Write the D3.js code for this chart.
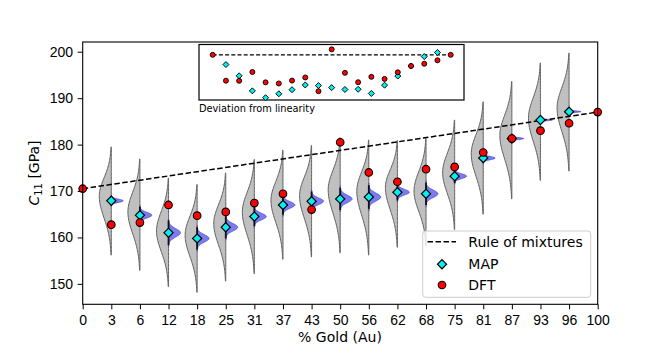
<!DOCTYPE html>
<html lang="en">
<head>
<meta charset="UTF-8">
<title>C11 vs gold fraction</title>
<script src="https://d3js.org/d3.v7.min.js"></script>
<style>
  body { margin: 0; background: #fff; }
  svg { font-family: "DejaVu Sans", sans-serif; }
  .axis text { font-size: 14px; fill: #000; }
  .axis path, .axis line { stroke: #000; }
</style>
</head>
<body>
<div id="chart"></div>
<script>
// composition (% Au), used as category labels
const pct = [0, 3, 6, 12, 18, 25, 31, 37, 43, 50, 56, 62, 68, 75, 81, 87, 93, 96, 100];
// DFT values (GPa)
const dft = [170.5, 162.75, 163.2, 167.0, 164.7, 165.5, 167.4, 169.4, 166.0, 180.5,
             174.0, 172.0, 174.7, 175.2, 178.3, 181.3, 183.0, 184.6, 187.0];
// MAP estimates, only for alloy compositions (3 .. 96)
const mapPct = [3, 6, 12, 18, 25, 31, 37, 43, 50, 56, 62, 68, 75, 81, 87, 93, 96];
const mapVal = [167.9, 164.8, 161.0, 159.8, 162.2, 164.5, 167.0, 167.8, 168.3, 168.7,
                169.75, 169.4, 173.2, 177.1, 181.3, 185.3, 187.1];
// gray violins: lower end, upper end, widest point
const violinLo   = [156.2, 152.9, 149.4, 148.2, 150.6, 152.2, 155.3, 155.8, 156.7, 156.2,
                    157.9, 158.2, 161.7, 165.0, 168.3, 172.3, 174.3];
const violinHi   = [179.5, 176.9, 172.8, 171.4, 173.9, 176.8, 178.8, 179.8, 181.5, 181.0,
                    180.9, 181.3, 185.3, 189.2, 193.6, 197.6, 199.7];
const violinMode = [168.9, 165.5, 161.4, 160.5, 163.0, 165.5, 168.0, 169.0, 170.3, 170.0,
                    170.8, 170.0, 174.0, 178.0, 182.0, 185.7, 187.9];
// blue violins: spread around the MAP value
const postSd = [0.35, 0.6, 0.9, 0.8, 0.8, 0.7, 0.7, 0.7, 0.8, 0.85,
                0.6, 0.8, 0.5, 0.35, 0.2, 0.15, 0.15];
const yTicks = [150, 160, 170, 180, 190, 200];

const width = 664, height = 348;
const svg = d3.select("#chart").append("svg")
    .attr("width", width).attr("height", height);

const x = d3.scalePoint().domain(pct).range([82.7, 597.7]);
const y = d3.scaleLinear().domain([145.6, 202.1]).range([304.3, 42]);
const halfW = x.step() * 0.42;

// rule of mixtures between pure endpoints
const rom = p => dft[0] + (dft[dft.length - 1] - dft[0]) * p / 100;

// half violin profile
function profile(lo, hi, mode, n, k) {
    const pts = [];
    for (let j = 0; j <= n; j++) {
        const v = lo + (hi - lo) * j / n;
        const s = (v > mode ? hi - mode : mode - lo) / k;
        const z = (v - mode) / s;
        pts.push({ v: v, w: Math.exp(-0.5 * z * z) });
    }
    return pts;
}

const g = svg.append("g");

// gray violins (left half)
mapPct.forEach((p, i) => {
    const cx = x(p);
    const pts = profile(violinLo[i], violinHi[i], violinMode[i], 80, 2.7);
    g.append("path")
        .datum(pts)
        .attr("d", d3.area().x0(cx).x1(d => cx - d.w * halfW).y(d => y(d.v)).curve(d3.curveBasis))
        .attr("fill", "#c0c0c0")
        .attr("stroke", "#5f5f5f")
        .attr("stroke-width", 1);
});

// blue violins (right half)
mapPct.forEach((p, i) => {
    const cx = x(p), m = mapVal[i], s = postSd[i];
    const pts = profile(m - 3.5 * s, m + 3.5 * s, m, 40, 3.5);
    g.append("path")
        .datum(pts)
        .attr("d", d3.area().x0(cx).x1(d => cx + d.w * halfW).y(d => y(d.v)).curve(d3.curveBasis))
        .attr("fill", "#7b7bf2")
        .attr("stroke", "#4a4ac0")
        .attr("stroke-width", 0.7);
    g.append("line")
        .attr("x1", cx).attr("x2", cx)
        .attr("y1", y(m - 3 * s)).attr("y2", y(m + 3 * s))
        .attr("stroke", "#111").attr("stroke-width", 1.8);
});

// rule of mixtures line
g.append("line")
    .attr("x1", x(pct[0])).attr("y1", y(dft[0]))
    .attr("x2", x(pct[pct.length - 1])).attr("y2", y(dft[dft.length - 1]))
    .attr("stroke", "#000").attr("stroke-width", 1.5)
    .attr("stroke-dasharray", "5.5,2.5");

const diamond = size => d3.symbol(d3.symbolSquare, size);

g.selectAll(".map").data(mapPct).join("path")
    .attr("class", "map")
    .attr("d", diamond(42))
    .attr("transform", (p, i) => `translate(${x(p)},${y(mapVal[i])}) rotate(45)`)
    .attr("fill", "#00f0f0").attr("stroke", "#000").attr("stroke-width", 1.2);

g.selectAll(".dft").data(pct).join("circle")
    .attr("class", "dft")
    .attr("cx", p => x(p)).attr("cy", (p, i) => y(dft[i]))
    .attr("r", 3.8)
    .attr("fill", "#ff0000").attr("stroke", "#000").attr("stroke-width", 1.1);

// axes
svg.append("g").attr("class", "axis")
    .attr("transform", "translate(0,304.3)")
    .call(d3.axisBottom(x).tickSize(5).tickPadding(5.5).tickSizeOuter(0))
    .call(a => a.select(".domain").remove());
svg.append("g").attr("class", "axis")
    .attr("transform", "translate(82.7,0)")
    .call(d3.axisLeft(y).tickValues(yTicks).tickSize(5).tickPadding(4.7).tickSizeOuter(0))
    .call(a => a.select(".domain").remove());
svg.append("rect")
    .attr("x", 82.7).attr("y", 42).attr("width", 515).attr("height", 262.3)
    .attr("fill", "none").attr("stroke", "#000").attr("stroke-width", 1.1);

svg.append("text")
    .attr("x", 340).attr("y", 342)
    .attr("text-anchor", "middle").attr("font-size", 14)
    .text("% Gold (Au)");

const yl = svg.append("text")
    .attr("transform", "translate(39,173) rotate(-90)")
    .attr("text-anchor", "middle").attr("font-size", 14);
yl.append("tspan").attr("font-style", "italic").text("C");
yl.append("tspan").attr("font-size", 10).attr("dy", 3).text("11");
yl.append("tspan").attr("dy", -3).text(" [GPa]");

// legend
const lg = svg.append("g");
lg.append("rect")
    .attr("x", 422.7).attr("y", 231).attr("width", 168).attr("height", 66.3)
    .attr("rx", 3).attr("fill", "#fff").attr("fill-opacity", 0.8)
    .attr("stroke", "#cccccc").attr("stroke-width", 1);
lg.append("line")
    .attr("x1", 427.5).attr("x2", 456).attr("y1", 241.7).attr("y2", 241.7)
    .attr("stroke", "#000").attr("stroke-width", 1.5).attr("stroke-dasharray", "5.5,2.5");
lg.append("path")
    .attr("d", diamond(42)).attr("transform", "translate(442,264.3) rotate(45)")
    .attr("fill", "#00f0f0").attr("stroke", "#000").attr("stroke-width", 1.2);
lg.append("circle")
    .attr("cx", 442).attr("cy", 285).attr("r", 3.8)
    .attr("fill", "#ff0000").attr("stroke", "#000").attr("stroke-width", 1.1);
[["Rule of mixtures", 247], ["MAP", 269], ["DFT", 289.5]].forEach(([t, ty]) => {
    lg.append("text").attr("x", 468.3).attr("y", ty).attr("font-size", 14).text(t);
});

// inset: deviation from linearity
const xi = d3.scalePoint().domain(pct).range([212.7, 450.7]);
const yi = d3.scaleLinear().domain([-14.4, 3.3]).range([100, 44.5]);
const ins = svg.append("g");
ins.append("rect")
    .attr("x", 199).attr("y", 44.5).attr("width", 265).attr("height", 55.5)
    .attr("fill", "#fff").attr("stroke", "#000").attr("stroke-width", 1.2);
ins.append("line")
    .attr("x1", xi(pct[0])).attr("x2", xi(pct[pct.length - 1]))
    .attr("y1", yi(0)).attr("y2", yi(0))
    .attr("stroke", "#000").attr("stroke-width", 1.2).attr("stroke-dasharray", "4,2.2");
ins.selectAll(".imap").data(mapPct).join("path")
    .attr("class", "imap")
    .attr("d", diamond(18))
    .attr("transform", (p, i) => `translate(${xi(p)},${yi(mapVal[i] - rom(p))}) rotate(45)`)
    .attr("fill", "#00f0f0").attr("stroke", "#000").attr("stroke-width", 0.9);
ins.selectAll(".idft").data(pct).join("circle")
    .attr("class", "idft")
    .attr("cx", p => xi(p)).attr("cy", (p, i) => yi(dft[i] - rom(p)))
    .attr("r", 2.5)
    .attr("fill", "#ff0000").attr("stroke", "#000").attr("stroke-width", 0.9);
ins.append("text")
    .attr("x", 199).attr("y", 112).attr("font-size", 9.8)
    .text("Deviation from linearity");
</script>
</body>
</html>
